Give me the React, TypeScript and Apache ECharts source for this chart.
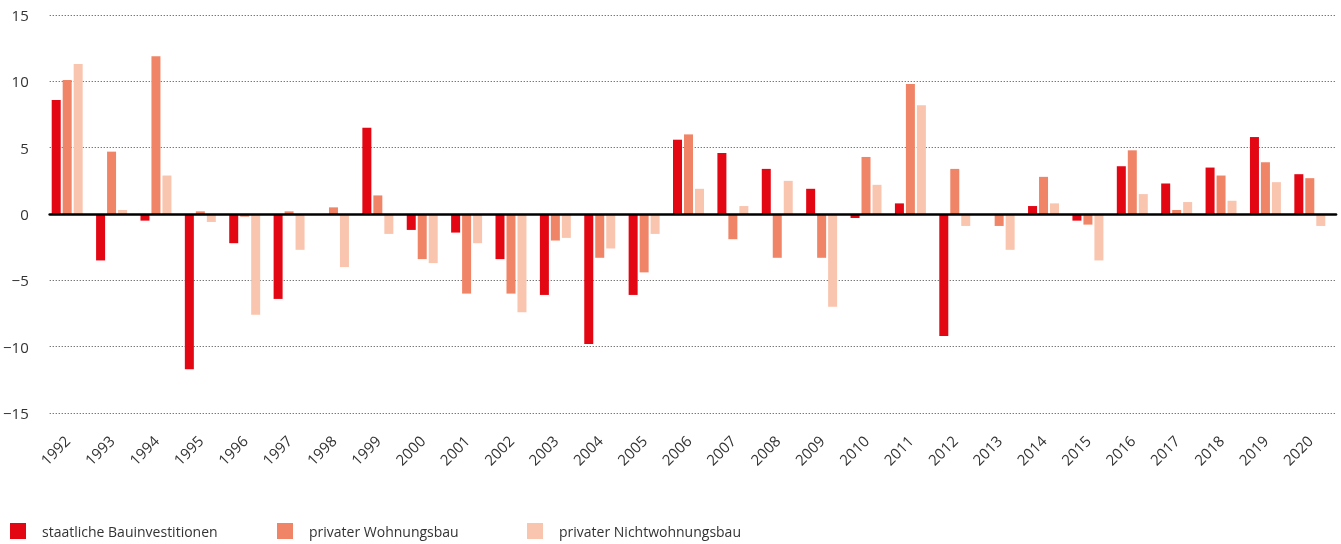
import React, { useEffect, useRef } from "react";
import * as echarts from "echarts";

const years = [
  "1992", "1993", "1994", "1995", "1996", "1997", "1998", "1999", "2000", "2001",
  "2002", "2003", "2004", "2005", "2006", "2007", "2008", "2009", "2010", "2011",
  "2012", "2013", "2014", "2015", "2016", "2017", "2018", "2019", "2020",
];

const staatlich = [
  8.6, -3.5, -0.5, -11.7, -2.2, -6.4, 0, 6.5, -1.2, -1.4,
  -3.4, -6.1, -9.8, -6.1, 5.6, 4.6, 3.4, 1.9, -0.3, 0.8,
  -9.2, 0, 0.6, -0.5, 3.6, 2.3, 3.5, 5.8, 3.0,
];

const wohnungsbau = [
  10.1, 4.7, 11.9, 0.2, -0.2, 0.2, 0.5, 1.4, -3.4, -6.0,
  -6.0, -2.0, -3.3, -4.4, 6.0, -1.9, -3.3, -3.3, 4.3, 9.8,
  3.4, -0.9, 2.8, -0.8, 4.8, 0.3, 2.9, 3.9, 2.7,
];

const nichtwohnungsbau = [
  11.3, 0.3, 2.9, -0.6, -7.6, -2.7, -4.0, -1.5, -3.7, -2.2,
  -7.4, -1.8, -2.6, -1.5, 1.9, 0.6, 2.5, -7.0, 2.2, 8.2,
  -0.9, -2.7, 0.8, -3.5, 1.5, 0.9, 1.0, 2.4, -0.9,
];

const seriesNames = [
  "staatliche Bauinvestitionen",
  "privater Wohnungsbau",
  "privater Nichtwohnungsbau",
];
const colors = ["#e30613", "#f08466", "#f9c5af"];

const FONT = "'Open Sans', sans-serif";

export default function App() {
  const ref = useRef<HTMLDivElement>(null);

  useEffect(() => {
    if (!ref.current) return;
    const chart = echarts.init(ref.current, null, { renderer: "svg" });
    const legendLefts = [5, 272, 522];
    chart.setOption({
      animation: false,
      textStyle: { fontFamily: FONT },
      grid: [
        { left: 45, right: 9, top: 15, bottom: 131 },
        { left: 48, right: 5, top: 15, bottom: 131 },
      ],
      legend: seriesNames.map((n, i) => ({
        data: [n],
        left: legendLefts[i],
        top: 518,
        icon: "rect",
        itemWidth: 16,
        itemHeight: 16,
        selectedMode: false,
        textStyle: {
          fontFamily: FONT,
          fontSize: 14,
          color: "#333",
          padding: [0, 0, 0, 11],
        },
      })),
      xAxis: [
        {
          gridIndex: 0,
          type: "category",
          data: years,
          axisLine: { show: false },
          axisTick: { show: false },
          axisLabel: {
            rotate: 45,
            margin: 25,
            fontSize: 15,
            color: "#333",
            fontFamily: FONT,
            interval: 0,
          },
        },
        {
          gridIndex: 1,
          type: "value",
          min: 0,
          max: 1,
          z: 10,
          axisLine: { show: true, onZero: true, lineStyle: { color: "#000", width: 2.7 } },
          axisTick: { show: false },
          axisLabel: { show: false },
          splitLine: { show: false },
        },
      ],
      yAxis: [
        {
          gridIndex: 0,
          type: "value",
          min: -15,
          max: 15,
          interval: 5,
          axisLine: { show: false },
          axisTick: { show: false },
          axisLabel: { show: false },
          splitLine: { show: false },
        },
        {
          gridIndex: 1,
          type: "value",
          min: -15,
          max: 15,
          interval: 5,
          axisLine: { show: false },
          axisTick: { show: false },
          axisLabel: {
            margin: 21,
            fontSize: 15,
            color: "#333",
            fontFamily: FONT,
            formatter: (v: number) => String(v).replace("-", "\u2212"),
          },
          splitLine: {
            show: true,
            lineStyle: { color: "#444", width: 1, type: [1, 2] },
          },
        },
      ],
      series: [staatlich, wohnungsbau, nichtwohnungsbau].map((d, i) => ({
        name: seriesNames[i],
        type: "bar",
        xAxisIndex: 0,
        yAxisIndex: 0,
        data: d,
        barWidth: 9,
        barGap: "22%",
        itemStyle: { color: colors[i] },
      })),
    });
    return () => chart.dispose();
  }, []);

  return (
    <div
      ref={ref}
      style={{ position: "fixed", left: 0, top: 0, width: 1341, height: 544 }}
    />
  );
}
